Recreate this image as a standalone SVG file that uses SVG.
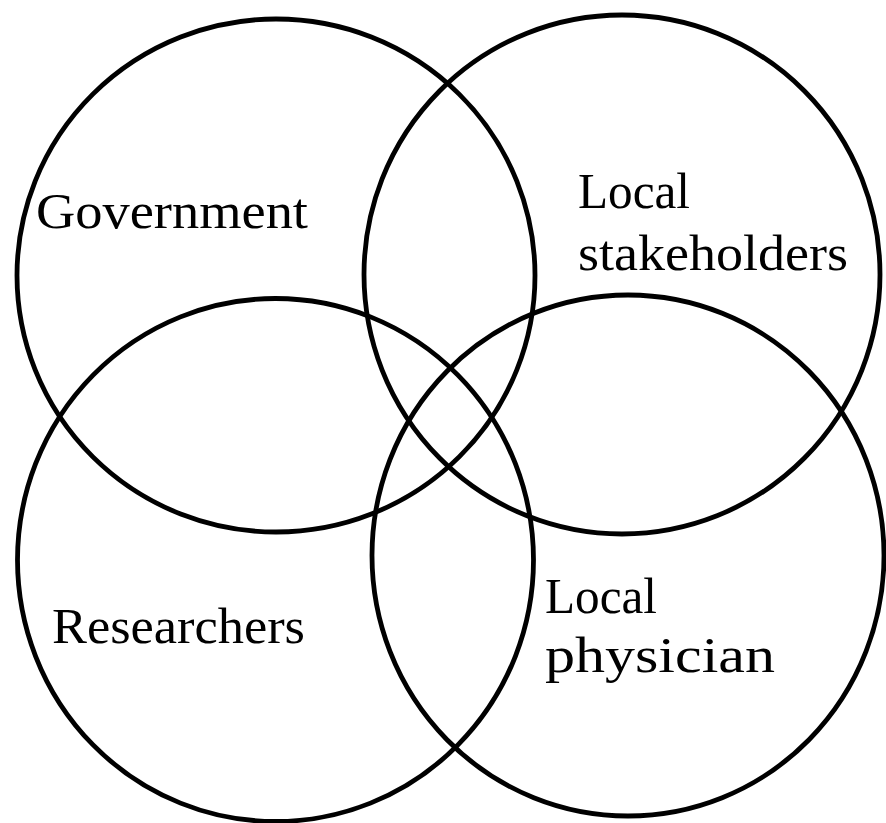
<svg xmlns="http://www.w3.org/2000/svg" width="886" height="823" viewBox="0 0 886 823">
<style>
.c{fill:none;stroke:#000;stroke-width:4.8}
.t{font-family:"Liberation Serif","Times New Roman",serif;font-size:51px;fill:#000}
</style>
<rect width="886" height="823" fill="#fff"/>
<g id="government">
<ellipse class="c" cx="276" cy="275.5" rx="259" ry="256.5"/>
<text class="t" x="36" y="228" textLength="272" lengthAdjust="spacingAndGlyphs">Government</text>
</g>
<g id="local-stakeholders">
<ellipse class="c" cx="622" cy="274.5" rx="258" ry="259.5"/>
<text class="t" x="578" y="208" textLength="112" lengthAdjust="spacingAndGlyphs">Local</text>
<text class="t" x="578" y="270" textLength="270" lengthAdjust="spacingAndGlyphs">stakeholders</text>
</g>
<g id="researchers">
<ellipse class="c" cx="275.5" cy="560" rx="258" ry="261.5"/>
<text class="t" x="52" y="643" textLength="253" lengthAdjust="spacingAndGlyphs">Researchers</text>
</g>
<g id="local-physician">
<ellipse class="c" cx="628" cy="555.5" rx="256" ry="260.5"/>
<text class="t" x="545" y="613" textLength="112" lengthAdjust="spacingAndGlyphs">Local</text>
<text class="t" x="545" y="672" textLength="230" lengthAdjust="spacingAndGlyphs">physician</text>
</g>
<g id="connectors"/>
</svg>
